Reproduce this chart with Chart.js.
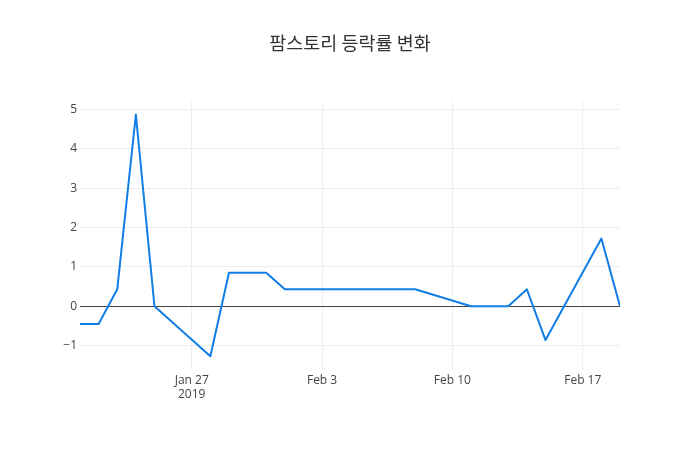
<!DOCTYPE html>
<html>
<head>
<meta charset="utf-8">
<script src="https://cdn.jsdelivr.net/npm/chart.js@4"></script>
<style>
  html, body { margin: 0; padding: 0; background: #fff; }
  #wrap { width: 700px; height: 450px; position: relative; }
</style>
</head>
<body>
<div id="wrap"><canvas id="chart" width="700" height="450"></canvas></div>
<script>
  const dates = [
    "2019-01-21", "2019-01-22", "2019-01-23", "2019-01-24", "2019-01-25",
    "2019-01-28", "2019-01-29", "2019-01-30", "2019-01-31", "2019-02-01",
    "2019-02-07", "2019-02-08", "2019-02-11", "2019-02-12", "2019-02-13",
    "2019-02-14", "2019-02-15", "2019-02-18", "2019-02-19"
  ];
  const changes = [
    -0.45, -0.45, 0.43, 4.87, 0.0,
    -1.27, 0.85, 0.85, 0.85, 0.43,
    0.43, 0.43, 0.0, 0.0, 0.0,
    0.43, -0.86, 1.72, 0.0
  ];
  const tickDates = ["2019-01-27", "2019-02-03", "2019-02-10", "2019-02-17"];
  const tickLabels = [["Jan 27", "2019"], "Feb 3", "Feb 10", "Feb 17"];
  const yTicks = [-1, 0, 1, 2, 3, 4, 5];

  const DAY = 86400000;
  const origin = Date.parse(dates[0]);
  function dayOf(d) { return (Date.parse(d) - origin) / DAY; }

  const points = dates.map(function (d, i) { return { x: dayOf(d), y: changes[i] }; });
  const tickDays = tickDates.map(dayOf);

  const font = { family: "'Open Sans', 'Noto Sans CJK KR', sans-serif", size: 12 };

  new Chart(document.getElementById("chart").getContext("2d"), {
    type: "line",
    data: {
      datasets: [{
        data: points,
        borderColor: "#117de6",
        borderWidth: 2,
        borderJoinStyle: "round",
        pointRadius: 0,
        tension: 0,
        fill: false
      }]
    },
    options: {
      responsive: false,
      animation: false,
      layout: { padding: 0 },
      plugins: {
        legend: { display: false },
        tooltip: { enabled: false },
        title: {
          display: true,
          text: "팜스토리 등락률 변화",
          color: "#333",
          font: { family: "'Noto Sans CJK KR', 'Open Sans', sans-serif", size: 18.5, weight: "normal" },
          padding: { top: 32, bottom: 47 }
        }
      },
      scales: {
        x: {
          type: "linear",
          min: 0,
          max: dayOf(dates[dates.length - 1]),
          afterBuildTicks: function (scale) {
            scale.ticks = tickDays.map(function (v) { return { value: v }; });
          },
          afterFit: function (scale) { scale.height = 80; },
          ticks: {
            color: "#444",
            font: font,
            padding: 3,
            maxRotation: 0,
            autoSkip: false,
            callback: function (value) {
              const i = tickDays.indexOf(value);
              return i >= 0 ? tickLabels[i] : "";
            }
          },
          grid: { color: "#eee", drawTicks: false },
          border: { display: false }
        },
        y: {
          min: -1.62,
          max: 5.21,
          afterBuildTicks: function (scale) {
            scale.ticks = yTicks.map(function (v) { return { value: v }; });
          },
          afterFit: function (scale) { scale.width = 80; },
          ticks: {
            color: "#444",
            font: font,
            padding: 3,
            callback: function (value) {
              return value < 0 ? "\u2212" + Math.abs(value) : String(value);
            }
          },
          grid: {
            drawTicks: false,
            color: function (ctx) { return ctx.tick && ctx.tick.value === 0 ? "#444" : "#eee"; }
          },
          border: { display: false }
        },
        spacer: {
          type: "linear",
          position: "right",
          afterFit: function (scale) { scale.width = 80; },
          ticks: { display: false },
          grid: { display: false },
          border: { display: false }
        }
      }
    }
  });
</script>
</body>
</html>
